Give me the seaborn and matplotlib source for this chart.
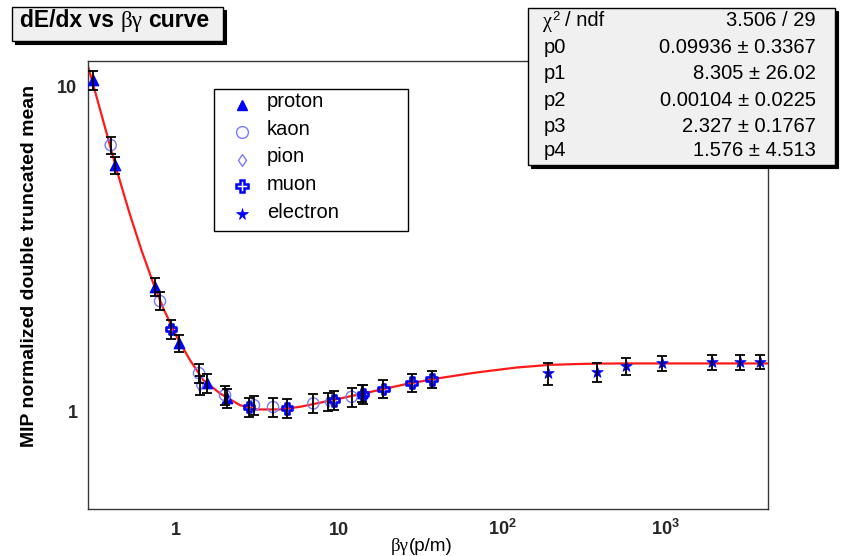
import numpy as np
import pandas as pd
import matplotlib
matplotlib.use("Agg")
import matplotlib.pyplot as plt
import seaborn as sns
from matplotlib.lines import Line2D
from matplotlib.patches import Rectangle
from matplotlib.ticker import FixedLocator, FixedFormatter, NullFormatter

# ---------------- data ----------------
proton_bg = [0.310, 0.423, 0.744, 1.043, 1.548, 2.053, 13.7]
proton_val = [10.43, 5.71, 2.41, 1.62, 1.22, 1.096, 1.134]
proton_err = [0.70, 0.36, 0.15, 0.10, 0.08, 0.07, 0.07]

kaon_bg = [0.398, 0.798, 1.383, 1.995, 3.003, 3.927, 6.93, 11.9]
kaon_val = [6.58, 2.18, 1.309, 1.12, 1.043, 1.029, 1.056, 1.107]
kaon_err = [0.40, 0.14, 0.085, 0.075, 0.07, 0.07, 0.07, 0.075]

pion_bg = [1.40, 8.56]
pion_val = [1.20, 1.068]
pion_err = [0.08, 0.07]

muon_bg = [0.932, 2.80, 4.78, 9.28, 13.97, 18.6, 27.8, 36.8]
muon_val = [1.788, 1.029, 1.021, 1.081, 1.128, 1.169, 1.222, 1.254]
muon_err = [0.12, 0.07, 0.07, 0.07, 0.075, 0.075, 0.075, 0.075]

electron_bg = [190.5, 377, 567, 942, 1906, 2843, 3770]
electron_val = [1.306, 1.321, 1.375, 1.402, 1.412, 1.412, 1.418]
electron_err = [0.105, 0.09, 0.083, 0.075, 0.078, 0.078, 0.07]

# fitted curve
fit_bg = [0.289, 0.3115, 0.3943, 0.4334, 0.5200, 0.6166, 0.7262, 0.8359, 1.01,
          1.218, 1.47, 1.859, 2.466, 3.12, 4.334, 5.743, 9.64, 15.42, 24.66,
          39.5, 63.1, 76.2, 122, 195, 300, 395, 550, 799, 4190]
fit_val = [11.5, 10.07, 6.56, 5.51, 4.05, 3.11, 2.471, 2.07, 1.693,
           1.435, 1.246, 1.134, 1.043, 1.012, 1.012, 1.031, 1.088, 1.145, 1.206,
           1.260, 1.306, 1.323, 1.362, 1.388, 1.397, 1.400, 1.402, 1.402, 1.402]

x_ticks = [1, 10, 100, 1000]
x_tick_labels = ["1", "10", "10$^{2}$", "10$^{3}$"]
y_ticks = [1, 10]
y_tick_labels = ["1", "10"]

stat_names = ["p0", "p1", "p2", "p3", "p4"]
stat_values = ["0.09936 \u00b1 0.3367", "8.305 \u00b1 26.02", "0.00104 \u00b1 0.0225",
               "2.327 \u00b1 0.1767", "1.576 \u00b1 4.513"]
chi2_text = "3.506 / 29"
legend_labels = ["proton", "kaon", "pion", "muon", "electron"]

# ---------------- style ----------------
sns.set_theme(style="white")
plt.rcParams["font.family"] = ["Liberation Sans", "DejaVu Sans"]
plt.rcParams["mathtext.fontset"] = "custom"
plt.rcParams["mathtext.rm"] = "Liberation Sans:bold"
plt.rcParams["mathtext.it"] = "Liberation Sans:italic"
plt.rcParams["mathtext.bf"] = "Liberation Sans:bold"

W, H = 841, 556
fig = plt.figure(figsize=(W / 100, H / 100), dpi=100)
fig.patch.set_facecolor("white")


def fx(x):
    return x / W


def fy(y):
    return 1 - y / H


ax_l, ax_r, ax_t, ax_b = 87.5, 767.5, 61, 509
ax = fig.add_axes([fx(ax_l), fy(ax_b), (ax_r - ax_l) / W, (ax_b - ax_t) / H])
ax.set_facecolor("white")

BLUE = "#0000ff"
LIGHT = "#7a7aff"

# fit curve
sns.lineplot(x=fit_bg, y=fit_val, color="#ff1a1a", lw=1.6, ax=ax, zorder=2,
             estimator=None, sort=False)

species = [
    (proton_bg, proton_val, proton_err, "^", 55, BLUE, True, 1.0),
    (kaon_bg, kaon_val, kaon_err, "o", 65, LIGHT, False, 1.0),
    (pion_bg, pion_val, pion_err, "d", 35, LIGHT, False, 1.0),
    (muon_bg, muon_val, muon_err, "P", 60, BLUE, False, 1.9),
    (electron_bg, electron_val, electron_err, "*", 75, BLUE, True, 0.5),
]
for bg, val, err, mk, s, col, filled, lw in species:
    ax.errorbar(bg, val, yerr=err, fmt="none", ecolor="black", elinewidth=1.3,
                capsize=3.8, capthick=1.3, zorder=4)
    sns.scatterplot(x=bg, y=val, marker=mk, s=s, color=col, ax=ax, zorder=3,
                    linewidth=lw, legend=False)
    coll = ax.collections[-1]
    coll.set_edgecolor(col)
    coll.set_facecolor(col if filled else "none")
    coll.set_linewidth(lw)

ax.set_xscale("log")
ax.set_yscale("log")
ax.set_xlim(0.287, 4190)
ax.set_ylim(0.5, 11.94)
ax.set_xlabel("")
ax.set_ylabel("")

ax.xaxis.set_major_locator(FixedLocator(x_ticks))
ax.xaxis.set_major_formatter(FixedFormatter(x_tick_labels))
xminor = [m * 10.0 ** e for e in range(-1, 4) for m in range(2, 10)]
ax.xaxis.set_minor_locator(FixedLocator(xminor))
ax.xaxis.set_minor_formatter(NullFormatter())
ax.yaxis.set_major_locator(FixedLocator(y_ticks))
ax.yaxis.set_major_formatter(FixedFormatter(y_tick_labels))
yminor = [m * 10.0 ** e for e in range(-1, 2) for m in range(2, 10)]
ax.yaxis.set_minor_locator(FixedLocator(yminor))
ax.yaxis.set_minor_formatter(NullFormatter())

ax.tick_params(axis="both", which="both", direction="in", top=False, right=False,
               color="#202020", width=0.9)
ax.tick_params(axis="y", which="major", length=13.7, pad=7.2, labelsize=13)
ax.tick_params(axis="y", which="minor", length=6.8)
ax.tick_params(axis="x", which="major", length=9.4, pad=19.0, labelsize=13)
ax.tick_params(axis="x", which="minor", length=4.8)
for lab in ax.get_yticklabels():
    lab.set_fontweight("bold")
for lab in ax.get_xticklabels():
    lab.set_fontweight("bold")
    lab.set_verticalalignment("baseline")

for sp in ax.spines.values():
    sp.set_color("#383838")
    sp.set_linewidth(1.0)
    sp.set_visible(True)

renderer = fig.canvas.get_renderer()


def text_run(pieces, x, y_base, ha="left"):
    """pieces: list of (text, kwargs, dy_px, gap_after_px)."""
    widths = []
    for s, kw, dy, gap in pieces:
        t = fig.text(0, 0, s, **kw)
        widths.append(t.get_window_extent(renderer).width)
        t.remove()
    total = sum(widths) + sum(p[3] for p in pieces[:-1])
    if ha == "center":
        cur = x - total / 2
    elif ha == "right":
        cur = x - total
    else:
        cur = x
    for (s, kw, dy, gap), w in zip(pieces, widths):
        fig.text(fx(cur), fy(y_base + dy), s, ha="left", va="baseline", zorder=6, **kw)
        cur += w + gap


def boxed(x0, y0, x1, y1, fc, shadow=3):
    fig.add_artist(Rectangle((fx(x0 + shadow), fy(y1 + shadow)), (x1 - x0) / W,
                             (y1 - y0) / H, transform=fig.transFigure,
                             facecolor="black", edgecolor="black", lw=0.8, zorder=4))
    fig.add_artist(Rectangle((fx(x0), fy(y1)), (x1 - x0) / W, (y1 - y0) / H,
                             transform=fig.transFigure, facecolor=fc,
                             edgecolor="black", lw=1.0, zorder=5))


# ---------------- title box ----------------
boxed(11.7, 7.3, 222.7, 41, "#f0f0f0")
tb = dict(fontsize=16.5, fontweight="bold", color="black")
tg = dict(fontsize=16.5, family="Liberation Serif", color="black")
text_run([("dE/dx vs", tb, 0, 6.0), ("\u03b2\u03b3", tg, 0, 6.0), ("curve", tb, 0, 0)],
         115.0, 27.3, ha="center")

# ---------------- stats box ----------------
boxed(528.3, 8.3, 834.5, 165, "#f0f0f0")
sf = dict(fontsize=14.5, color="black")
baselines = [26.5, 52.8, 78.8, 106.2, 131.5, 156.5]
text_run([("\u03c7", dict(fontsize=14.5, family="Liberation Serif", color="black"), 0, 0.5),
          ("2", dict(fontsize=9.5, color="black"), -7, 5.0),
          ("/ ndf", sf, 0, 0)], 543.3, baselines[0])
fig.text(fx(816), fy(baselines[0]), chi2_text, ha="right", va="baseline", zorder=6, **sf)
for i, (nm, vv) in enumerate(zip(stat_names, stat_values)):
    fig.text(fx(543.3), fy(baselines[i + 1]), nm, ha="left", va="baseline", zorder=6, **sf)
    fig.text(fx(816), fy(baselines[i + 1]), vv, ha="right", va="baseline", zorder=6, **sf)

# ---------------- legend ----------------
fig.add_artist(Rectangle((fx(214), fy(230.7)), (408 - 214) / W, (230.7 - 89.3) / H,
                         transform=fig.transFigure, facecolor="white",
                         edgecolor="black", lw=1.0, zorder=5))
leg_markers = [("^", 7.5, BLUE, True, 1.0), ("o", 8.5, LIGHT, False, 1.0),
               ("d", 6.0, LIGHT, False, 1.0), ("P", 8.5, BLUE, False, 1.8),
               ("*", 8.5, BLUE, True, 0.5)]
leg_marker_y = [104.5, 131.7, 159.5, 186.0, 214.5]
leg_text_y = [106.7, 135.0, 162.0, 190.0, 218.3]
for (mk, ms, col, filled, lw), my, ty, lab in zip(leg_markers, leg_marker_y, leg_text_y,
                                                  legend_labels):
    fig.add_artist(Line2D([fx(241.7)], [fy(my)], transform=fig.transFigure, marker=mk,
                          markersize=ms, markeredgecolor=col,
                          markerfacecolor=col if filled else "none",
                          markeredgewidth=lw, linestyle="none", zorder=6))
    fig.text(fx(266.7), fy(ty), lab, ha="left", va="baseline", fontsize=14.5,
             color="black", zorder=6)

# ---------------- axis titles ----------------
fig.text(fx(30), fy(266), "MIP normalized double truncated mean", rotation=90,
         ha="center", va="center", fontsize=14, fontweight="bold", color="black")
text_run([("\u03b2\u03b3", dict(fontsize=13.5, family="Liberation Serif", color="black"), 0, 0),
          ("(p/m)", dict(fontsize=13.5, color="black"), 0, 0)], 422, 551, ha="center")

fig.savefig("out.png", dpi=100, facecolor="white")
